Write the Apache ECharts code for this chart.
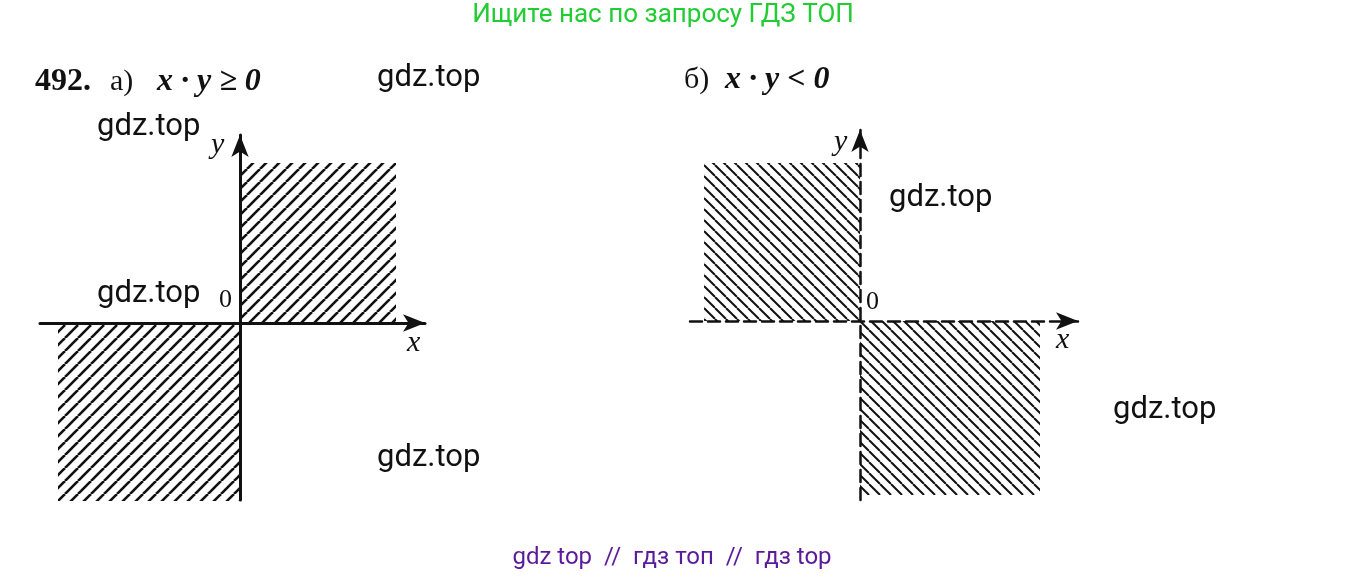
<!DOCTYPE html><html><head><meta charset="utf-8">
<script src="https://cdn.jsdelivr.net/npm/echarts@6/dist/echarts.min.js"></script>
<style>html,body{margin:0;background:#fff}#c{width:1347px;height:577px}</style></head><body><div id="c"></div>
<script>
// data: hatched regions [x1,y1,x2,y2]
const regionsA = [[0,0,3.9,4],[-4.55,-4.45,0,0]];
const regionsB = [[-3.9,0,0,3.95],[0,-4.35,4.5,0]];
const axisA = {xmin:-5,xmax:4.625,ymin:-4.425,ymax:4.7};
const axisB = {xmin:-4.25,xmax:5.45,ymin:-4.475,ymax:4.775};

function hatch(dir,w,s){
  const c=document.createElement('canvas');c.width=s;c.height=s;
  const g=c.getContext('2d');g.strokeStyle='#111';g.lineWidth=w;
  for(const o of [-s,0,s]){g.beginPath();
    if(dir>0){g.moveTo(o,s);g.lineTo(o+s,0);}else{g.moveTo(o,0);g.lineTo(o+s,s);}
    g.stroke();}
  return {image:c,repeat:'repeat'};
}
function rectSeries(data,idx,fill){
  return {type:'custom',xAxisIndex:idx,yAxisIndex:idx,data:data,
    renderItem:(p,api)=>{const a=api.coord([api.value(0),api.value(1)]),b=api.coord([api.value(2),api.value(3)]);
      return {type:'rect',shape:{x:Math.min(a[0],b[0]),y:Math.min(a[1],b[1]),width:Math.abs(b[0]-a[0]),height:Math.abs(b[1]-a[1])},style:{fill:fill}};},
    encode:{x:[0,2],y:[1,3]},z:1};
}
function ax(type,min,max,lw,dash){return {type:'value',min:min,max:max,gridIndex:type.i,
  axisLine:{show:true,onZero:true,symbol:['none','arrow'],symbolSize:[13,22],lineStyle:{color:'#111',width:lw,type:dash}},
  axisTick:{show:false},axisLabel:{show:false},splitLine:{show:false},z:5};}
const serif='"Liberation Serif","DejaVu Serif",serif';
const wm='31px Roboto';
function t(x,y,s,o){return Object.assign({type:'text',x:x,y:y,style:Object.assign({text:s,fill:'#111',font:'24px Roboto'},o||{})});}
const ch=echarts.init(document.getElementById('c'));
ch.setOption({animation:false,
 grid:[{left:40,width:385,top:135,height:365},{left:690,width:388,top:130,height:370}],
 xAxis:[ax({i:0},axisA.xmin,axisA.xmax,3,'solid'),ax({i:1},axisB.xmin,axisB.xmax,2.5,[12,6])],
 yAxis:[ax({i:0},axisA.ymin,axisA.ymax,3,'solid'),ax({i:1},axisB.ymin,axisB.ymax,2.5,[12,6])],
 series:[rectSeries(regionsA,0,hatch(1,2.6,13)),rectSeries(regionsB,1,hatch(-1,2,11))],
 graphic:[
  t(663,15,'Ищите нас по запросу ГДЗ ТОП',{fill:'#22cc33',font:'26px Roboto',align:'center',verticalAlign:'middle'}),
  t(672,558,'gdz top  //  гдз топ  //  гдз top',{fill:'#5a1a9a',font:'24px Roboto',align:'center',verticalAlign:'middle'}),
  t(35,82,'492.',{font:'bold 32px '+serif,verticalAlign:'middle'}),
  t(110,82,'а)',{font:'30px '+serif,verticalAlign:'middle'}),
  t(157,82,'x · y ≥ 0',{font:'italic bold 32px '+serif,verticalAlign:'middle'}),
  t(684,80,'б)',{font:'30px '+serif,verticalAlign:'middle'}),
  t(725,80,'x · y < 0',{font:'italic bold 32px '+serif,verticalAlign:'middle'}),
  t(377,78,'gdz.top',{verticalAlign:'middle',font:wm}),
  t(97,127,'gdz.top',{verticalAlign:'middle',font:wm}),
  t(97,294,'gdz.top',{verticalAlign:'middle',font:wm}),
  t(377,458,'gdz.top',{verticalAlign:'middle',font:wm}),
  t(889,198,'gdz.top',{verticalAlign:'middle',font:wm}),
  t(1113,410,'gdz.top',{verticalAlign:'middle',font:wm}),
  t(219,300,'0',{font:'26px '+serif,verticalAlign:'middle'}),
  t(407,343,'x',{font:'italic 30px '+serif,verticalAlign:'middle'}),
  t(211,145,'y',{font:'italic 30px '+serif,verticalAlign:'middle'}),
  t(866,302,'0',{font:'26px '+serif,verticalAlign:'middle'}),
  t(1056,340,'x',{font:'italic 30px '+serif,verticalAlign:'middle'}),
  t(834,142,'y',{font:'italic 30px '+serif,verticalAlign:'middle'})
 ]});
</script></body></html>
